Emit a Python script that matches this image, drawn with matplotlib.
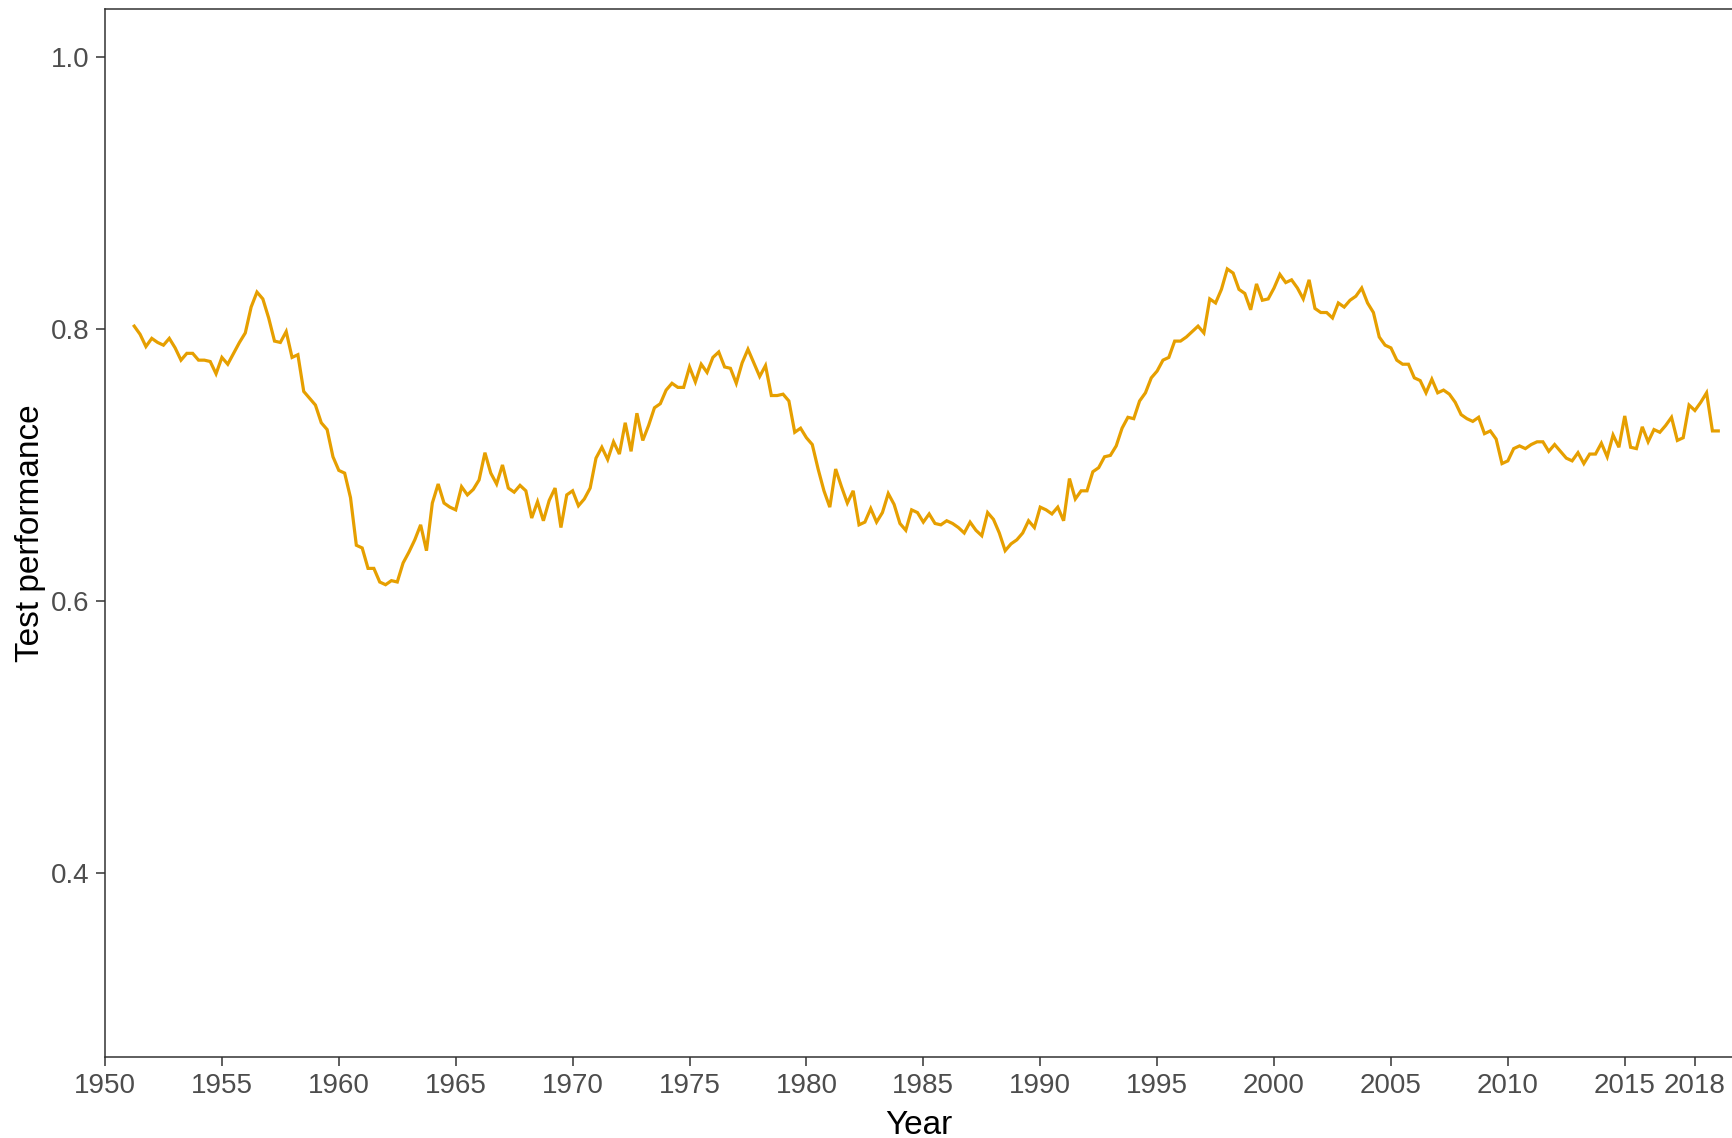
import numpy as np
import matplotlib
matplotlib.use("Agg")
import matplotlib.pyplot as plt

start_year = 1951.25
step = 0.25
performance = [
    0.802, 0.796, 0.787, 0.793, 0.790, 0.788, 0.793, 0.786, 0.777, 0.782,
    0.782, 0.777, 0.777, 0.776, 0.767, 0.779, 0.774, 0.782, 0.790, 0.797,
    0.816, 0.827, 0.822, 0.808, 0.791, 0.790, 0.798, 0.779, 0.781, 0.754,
    0.749, 0.744, 0.731, 0.726, 0.706, 0.696, 0.694, 0.676, 0.641, 0.639,
    0.624, 0.624, 0.614, 0.612, 0.615, 0.614, 0.628, 0.636, 0.645, 0.656,
    0.637, 0.672, 0.686, 0.672, 0.669, 0.667, 0.684, 0.678, 0.682, 0.689,
    0.709, 0.694, 0.686, 0.700, 0.683, 0.680, 0.685, 0.681, 0.661, 0.673,
    0.659, 0.674, 0.683, 0.654, 0.678, 0.681, 0.670, 0.675, 0.683, 0.705,
    0.713, 0.704, 0.717, 0.708, 0.731, 0.710, 0.738, 0.718, 0.729, 0.742,
    0.745, 0.755, 0.760, 0.757, 0.757, 0.772, 0.761, 0.774, 0.768, 0.779,
    0.783, 0.772, 0.771, 0.760, 0.775, 0.785, 0.775, 0.765, 0.773, 0.751,
    0.751, 0.752, 0.747, 0.724, 0.727, 0.720, 0.715, 0.697, 0.681, 0.669,
    0.697, 0.684, 0.672, 0.681, 0.656, 0.658, 0.668, 0.658, 0.665, 0.679,
    0.671, 0.657, 0.652, 0.667, 0.665, 0.658, 0.664, 0.657, 0.656, 0.659,
    0.657, 0.654, 0.650, 0.658, 0.652, 0.648, 0.665, 0.660, 0.650, 0.637,
    0.642, 0.645, 0.650, 0.659, 0.654, 0.669, 0.667, 0.664, 0.669, 0.659,
    0.690, 0.675, 0.681, 0.681, 0.695, 0.698, 0.706, 0.707, 0.714, 0.727,
    0.735, 0.734, 0.747, 0.753, 0.764, 0.769, 0.777, 0.779, 0.791, 0.791,
    0.794, 0.798, 0.802, 0.797, 0.822, 0.819, 0.829, 0.844, 0.841, 0.829,
    0.826, 0.814, 0.833, 0.821, 0.822, 0.830, 0.840, 0.834, 0.836, 0.830,
    0.822, 0.836, 0.815, 0.812, 0.812, 0.808, 0.819, 0.816, 0.821, 0.824,
    0.830, 0.819, 0.812, 0.794, 0.788, 0.786, 0.777, 0.774, 0.774, 0.764,
    0.762, 0.753, 0.763, 0.753, 0.755, 0.752, 0.746, 0.737, 0.734, 0.732,
    0.735, 0.723, 0.725, 0.719, 0.701, 0.703, 0.712, 0.714, 0.712, 0.715,
    0.717, 0.717, 0.710, 0.715, 0.710, 0.705, 0.703, 0.709, 0.701, 0.708,
    0.708, 0.716, 0.706, 0.722, 0.713, 0.736, 0.713, 0.712, 0.728, 0.717,
    0.726, 0.724, 0.729, 0.735, 0.718, 0.720, 0.744, 0.740, 0.746, 0.753,
    0.725, 0.725,
]
years = start_year + step * np.arange(len(performance))

x_ticks = [1950, 1955, 1960, 1965, 1970, 1975, 1980, 1985, 1990, 1995,
           2000, 2005, 2010, 2015, 2018]
y_ticks = [0.4, 0.6, 0.8, 1.0]

plt.rcParams['font.family'] = ['Liberation Sans', 'DejaVu Sans']

fig = plt.figure(figsize=(17.33, 11.38), dpi=100)
ax = fig.add_axes([105 / 1733, 81 / 1138, 1 - 105 / 1733, (1057 - 9) / 1138])

ax.plot(years, performance, color='#E69F00', linewidth=2.3, solid_joinstyle='miter')

ax.set_xlim(1950, 2019.63)
ax.set_ylim(0.265, 1.035)
ax.set_xticks(x_ticks)
ax.set_xticklabels([str(t) for t in x_ticks])
ax.set_yticks(y_ticks)
ax.set_yticklabels([f"{t:.1f}" for t in y_ticks])

for side in ['left', 'bottom', 'top']:
    ax.spines[side].set_color('#333333')
    ax.spines[side].set_linewidth(1.1)
ax.spines['right'].set_visible(False)

ax.tick_params(axis='both', length=6.5, width=1.1, color='#333333',
               labelsize=20, labelcolor='#4D4D4D', pad=5)

ax.set_xlabel('Year', fontsize=24, color='black', labelpad=8)
ax.set_ylabel('Test performance', fontsize=24, color='black', labelpad=3)

fig.savefig('out.png', dpi=100)
